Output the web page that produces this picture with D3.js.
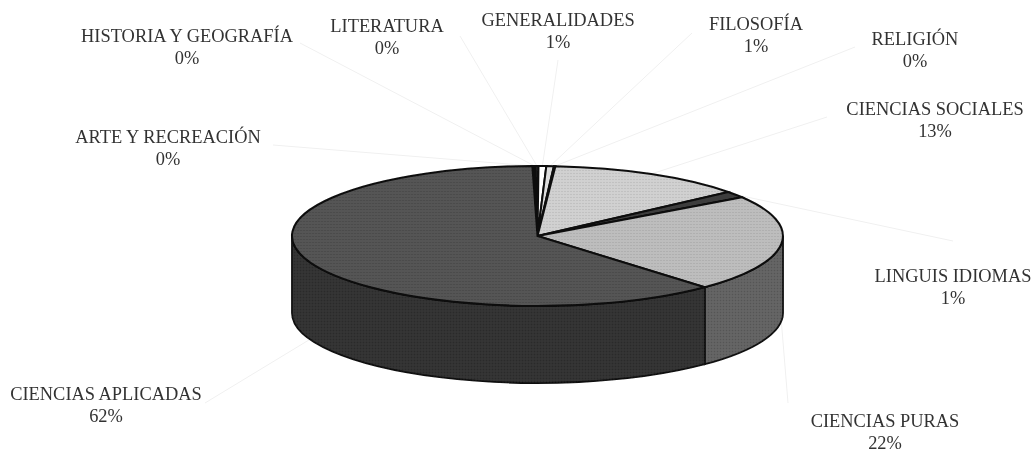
<!DOCTYPE html>
<html>
<head>
<meta charset="utf-8">
<script src="https://cdn.jsdelivr.net/npm/d3@7"></script>
<style>
    html, body { margin: 0; padding: 0; background: #fff; }
    text { font-family: "Liberation Serif", serif; font-size: 18.4px; fill: #333; }
</style>
</head>
<body>
<div id="chart"></div>
<script>
// order is clockwise from the top of the pie, starting with the first thin slice
var categories = ["ARTE Y RECREACIÓN", "HISTORIA Y GEOGRAFÍA", "LITERATURA", "GENERALIDADES", "FILOSOFÍA", "RELIGIÓN", "CIENCIAS SOCIALES", "LINGUIS IDIOMAS", "CIENCIAS PURAS", "CIENCIAS APLICADAS"];
var percents = [0.1, 0.1, 0.2, 0.5, 0.5, 0.1, 13, 1.5, 22.4, 61.6];
var percentLabels = ["0%", "0%", "0%", "1%", "1%", "0%", "13%", "1%", "22%", "62%"];

// layout only: label centre x, first baseline y, and where its leader line starts
var labelX = [168, 187, 387, 558, 756, 915, 935, 953, 885, 106];
var labelY = [143, 42, 32, 26, 30, 45, 115, 282, 427, 400];
var leaderX = [273, 300, 460, 558, 692, 855, 827, 953, 788, 205];
var leaderY = [145, 43, 36, 60, 33, 47, 117, 241, 403, 403];

var topColors = ["#222", "#222", "#333", "#fff", "#ddd", "#333", "#d0d0d0", "#3c3c3c", "#bcbcbc", "#525252"];
var sideColors = ["#222", "#222", "#222", "#222", "#222", "#222", "#555", "#333", "#626262", "#323232"];

var width = 1035, height = 453, depth = 77;
var startAngle = -1.2 * Math.PI / 180;

var svg = d3.select("#chart").append("svg")
    .attr("width", width)
    .attr("height", height)
    .style("display", "block");

var defs = svg.append("defs");
defs.append("filter").attr("id", "scan")
    .append("feGaussianBlur").attr("stdDeviation", 0.5);

// halftone stipple of the printed original
var dots = defs.append("pattern").attr("id", "dots")
    .attr("width", 3).attr("height", 3)
    .attr("patternUnits", "userSpaceOnUse");
dots.append("rect").attr("width", 1).attr("height", 1).attr("fill", "#000").attr("opacity", 0.14);
dots.append("rect").attr("x", 1.5).attr("y", 1.5).attr("width", 1).attr("height", 1).attr("fill", "#fff").attr("opacity", 0.08);

var x = d3.scaleLinear().domain([-1, 1]).range([292, 783]);
var y = d3.scaleLinear().domain([-1, 1]).range([166, 306]);

var pie = d3.pie().sort(null).startAngle(startAngle).endAngle(startAngle + 2 * Math.PI);
var slices = pie(percents);

function rimX(a) { return x(Math.sin(a)); }
function rimY(a) { return y(-Math.cos(a)); }
function rimPoint(a) { return rimX(a) + "," + rimY(a); }

var chart = svg.append("g").attr("filter", "url(#scan)");

// leader lines are very faint in the scan
var leaders = chart.append("g");
slices.forEach(function (d, i) {
    var mid = (d.startAngle + d.endAngle) / 2;
    // front slices point at the wall, not at the top face
    var norm = (mid + 2 * Math.PI) % (2 * Math.PI);
    var drop = (norm > Math.PI / 2 && norm < 3 * Math.PI / 2) ? depth : 0;
    leaders.append("line")
        .attr("x1", leaderX[i]).attr("y1", leaderY[i])
        .attr("x2", rimX(mid)).attr("y2", rimY(mid) + drop)
        .attr("stroke", "#f0f0f0").attr("stroke-width", 1);
});

// walls, only the part facing the viewer
var rx = (x(1) - x(-1)) / 2, ry = (y(1) - y(-1)) / 2;
var walls = chart.append("g");
slices.forEach(function (d, i) {
    var a0 = Math.max(d.startAngle, Math.PI / 2);
    var a1 = Math.min(d.endAngle, 3 * Math.PI / 2);
    if (a1 <= a0) return;
    var p = "M" + rimPoint(a0)
        + "A" + rx + "," + ry + " 0 0 1 " + rimPoint(a1)
        + "L" + rimX(a1) + "," + (rimY(a1) + depth)
        + "A" + rx + "," + ry + " 0 0 0 " + rimX(a0) + "," + (rimY(a0) + depth)
        + "Z";
    walls.append("path").attr("d", p)
        .attr("fill", sideColors[i])
        .attr("stroke", "#111").attr("stroke-width", 1.8);
    walls.append("path").attr("d", p).attr("fill", "url(#dots)");
});

// top face: a unit d3.arc squashed into the ellipse
var arc = d3.arc().innerRadius(0).outerRadius(1);
var face = chart.append("g")
    .attr("transform", "translate(" + x(0) + "," + y(0) + ") scale(" + rx + "," + ry + ")");
face.selectAll("path")
    .data(slices)
    .enter().append("path")
    .attr("d", arc)
    .attr("fill", function (d, i) { return topColors[i]; })
    .attr("stroke", "#0c0c0c")
    .attr("stroke-width", 2)
    .attr("vector-effect", "non-scaling-stroke");

// stipple goes on in screen space so it is not stretched with the face
var stipple = chart.append("g")
    .attr("transform", "translate(" + x(0) + "," + y(0) + ")");
var bigSlices = slices.filter(function (d) { return d.data > 5; });
bigSlices.forEach(function (d) {
    var a0 = d.startAngle, a1 = d.endAngle;
    var large = (a1 - a0) > Math.PI ? 1 : 0;
    stipple.append("path")
        .attr("d", "M0,0L" + (rx * Math.sin(a0)) + "," + (-ry * Math.cos(a0))
            + "A" + rx + "," + ry + " 0 " + large + " 1 " + (rx * Math.sin(a1)) + "," + (-ry * Math.cos(a1)) + "Z")
        .attr("fill", "url(#dots)");
});

var labels = svg.append("g").attr("text-anchor", "middle").attr("filter", "url(#scan)");
categories.forEach(function (name, i) {
    labels.append("text").attr("x", labelX[i]).attr("y", labelY[i]).text(name);
    labels.append("text").attr("x", labelX[i]).attr("y", labelY[i] + 22).text(percentLabels[i]);
});
</script>
</body>
</html>
